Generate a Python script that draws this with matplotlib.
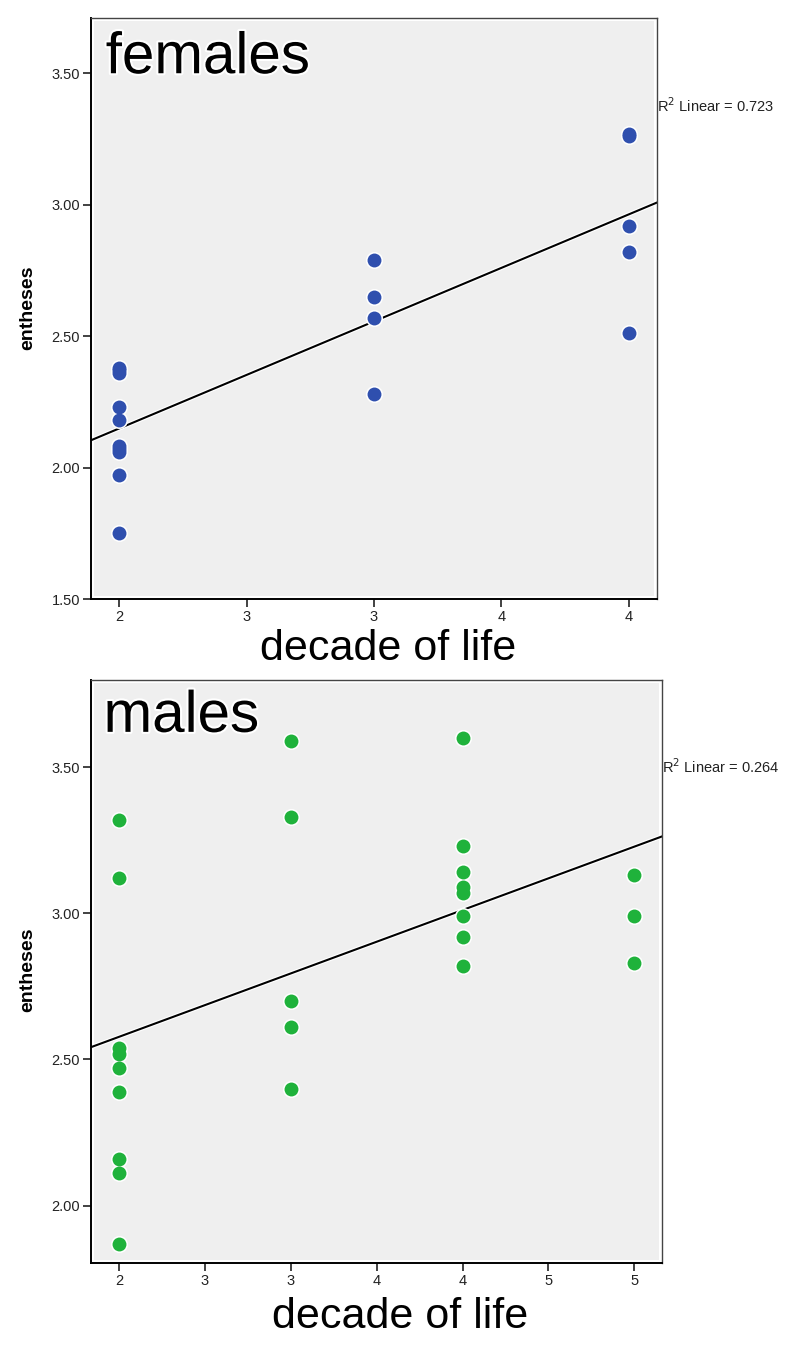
#
# Entheses score vs decade of life, females / males
#
import numpy as np
import matplotlib.pyplot as plt
import matplotlib.patheffects as pe
from matplotlib.patches import Rectangle

plt.rcParams['font.family'] = ['Liberation Sans', 'DejaVu Sans']

# Data
female_decade = [2, 2, 2, 2, 2, 2, 2, 2, 2, 2, 3, 3, 3, 3, 4, 4, 4, 4, 4]
female_entheses = [2.38, 2.37, 2.36, 2.23, 2.18, 2.08, 2.07, 2.06, 1.97, 1.75,
                   2.79, 2.65, 2.57, 2.28,
                   3.27, 3.26, 2.92, 2.82, 2.51]
female_r2 = '0.723'
female_xticks = [2, 2.5, 3, 3.5, 4]
female_xticklabels = ['2', '3', '3', '4', '4']
female_yticks = [1.5, 2.0, 2.5, 3.0, 3.5]

male_decade = [2, 2, 2, 2, 2, 2, 2, 2, 2, 3, 3, 3, 3, 3,
               4, 4, 4, 4, 4, 4, 4, 4, 5, 5, 5]
male_entheses = [3.32, 3.12, 2.54, 2.52, 2.47, 2.39, 2.16, 2.11, 1.87,
                 3.59, 3.33, 2.70, 2.61, 2.40,
                 3.60, 3.23, 3.14, 3.09, 3.07, 2.99, 2.92, 2.82,
                 3.13, 2.99, 2.83]
male_r2 = '0.264'
male_xticks = [2, 2.5, 3, 3.5, 4, 4.5, 5]
male_xticklabels = ['2', '3', '3', '4', '4', '5', '5']
male_yticks = [2.0, 2.5, 3.0, 3.5]

fig = plt.figure(figsize=(8, 13.47), dpi=100)
ax_f = fig.add_axes([0.11375, 0.5553, 0.7075, 0.4313])
ax_m = fig.add_axes([0.11375, 0.0624, 0.71375, 0.4328])


def draw_panel(ax, x, y, color, title, r2, xlim, ylim, xticks, xticklabels, yticks,
               title_pos):
    ax.set_facecolor('white')
    ax.add_patch(Rectangle((0.005, 0.005), 0.99, 0.99, transform=ax.transAxes,
                           facecolor='#efefef', edgecolor='none', zorder=0))
    ax.set_xlim(xlim)
    ax.set_ylim(ylim)

    # white halo under the dots, so overlapping dots merge like in SPSS
    ax.scatter(x, y, s=150, color='white', linewidths=0, zorder=3)
    ax.scatter(x, y, s=100, color=color, linewidths=0, zorder=4)

    # linear fit across the whole axis
    slope, icpt = np.polyfit(x, y, 1)
    xx = np.array(xlim)
    ax.plot(xx, slope * xx + icpt, color='black', lw=1.5, zorder=2,
            path_effects=[pe.withStroke(linewidth=3.2, foreground='white')])

    ax.set_xticks(xticks)
    ax.set_xticklabels(xticklabels)
    ax.set_yticks(yticks)
    ax.set_yticklabels(['%.2f' % v for v in yticks])
    ax.tick_params(direction='out', length=6, width=1.2, pad=2, labelsize=10.5,
                   colors='#222222')

    for s in ['left', 'bottom']:
        ax.spines[s].set_color('black')
        ax.spines[s].set_linewidth(1.4)
    for s in ['top', 'right']:
        ax.spines[s].set_color('#444444')
        ax.spines[s].set_linewidth(1.0)

    ax.text(title_pos[0], title_pos[1], title, transform=ax.transAxes,
            fontsize=42, va='baseline', ha='left', zorder=5,
            path_effects=[pe.withStroke(linewidth=3, foreground='white')])
    ax.text(1.0, title_pos[2], r'R$^2$ Linear = ' + r2, transform=ax.transAxes,
            fontsize=10.5, va='center', ha='left', color='#222222', clip_on=False)


draw_panel(ax_f, female_decade, female_entheses, '#2f4fae', 'females', female_r2,
           (1.89, 4.11), (1.5, 3.709), female_xticks, female_xticklabels,
           female_yticks, (0.026, 0.905, 0.85))
draw_panel(ax_m, male_decade, male_entheses, '#1fb23b', 'males', male_r2,
           (1.837, 5.161), (1.804, 3.798), male_xticks, male_xticklabels,
           male_yticks, (0.022, 0.911, 0.852))

# axis labels
fig.text(0.4856, 0.510, 'decade of life', fontsize=31, ha='center', va='baseline')
fig.text(0.5, 0.0141, 'decade of life', fontsize=31, ha='center', va='baseline')
fig.text(0.0344, 0.7717, 'entheses', fontsize=14, fontweight='bold',
         rotation=90, ha='center', va='center')
fig.text(0.0344, 0.2797, 'entheses', fontsize=14, fontweight='bold',
         rotation=90, ha='center', va='center')

plt.savefig('out.png', dpi=100)
